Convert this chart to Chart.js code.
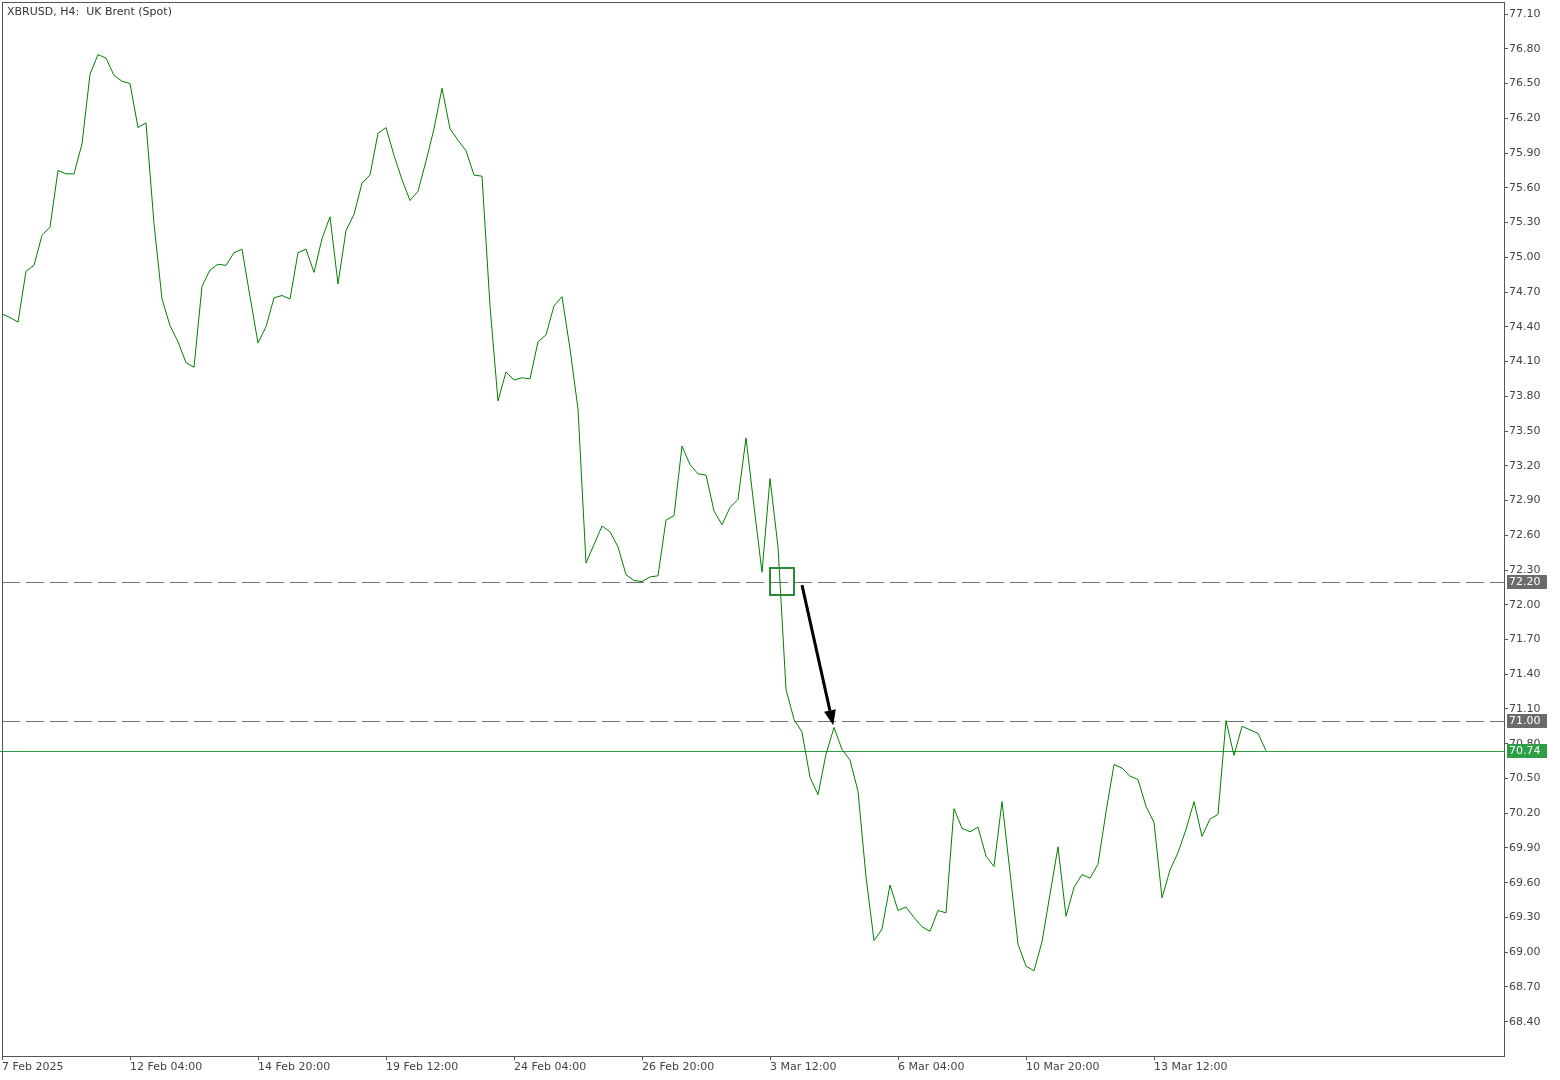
<!DOCTYPE html>
<html>
<head>
<meta charset="utf-8">
<title>XBRUSD H4</title>
<script src="https://cdn.jsdelivr.net/npm/chart.js@4.4.1/dist/chart.umd.min.js"></script>
<style>
    html, body { margin: 0; padding: 0; background: #fff; }
    #wrap { width: 1560px; height: 1080px; }
</style>
</head>
<body>
<div id="wrap"><canvas id="priceChart" width="1560" height="1080"></canvas></div>
<script>
// ==========================================
// 1. DATA (one close per bar)
// ==========================================
const closes = [
    74.51, 74.48, 74.44, 74.88, 74.93, 75.19, 75.26, 75.75, 75.72, 75.72,
    75.98, 76.58, 76.75, 76.72, 76.57, 76.52, 76.50, 76.12, 76.16, 75.29,
    74.64, 74.41, 74.27, 74.09, 74.05, 74.75, 74.89, 74.94, 74.93, 75.04,
    75.07, 74.66, 74.26, 74.40, 74.65, 74.67, 74.64, 75.04, 75.07, 74.87,
    75.16, 75.35, 74.77, 75.23, 75.37, 75.64, 75.71, 76.07, 76.12, 75.88,
    75.67, 75.49, 75.57, 75.83, 76.11, 76.46, 76.11, 76.01, 75.92, 75.71,
    75.70, 74.58, 73.76, 74.01, 73.94, 73.96, 73.95, 74.27, 74.33, 74.58,
    74.66, 74.21, 73.69, 72.36, 72.52, 72.68, 72.63, 72.50, 72.26, 72.21,
    72.20, 72.24, 72.25, 72.73, 72.77, 73.37, 73.21, 73.13, 73.12, 72.81,
    72.69, 72.84, 72.91, 73.44, 72.85, 72.28, 73.09, 72.50, 71.27, 71.01,
    70.90, 70.51, 70.36, 70.71, 70.94, 70.75, 70.66, 70.39, 69.65, 69.10,
    69.20, 69.58, 69.36, 69.39, 69.30, 69.22, 69.18, 69.36, 69.34, 70.24,
    70.07, 70.04, 70.08, 69.83, 69.74, 70.30, 69.69, 69.07, 68.88, 68.84,
    69.09, 69.50, 69.91, 69.31, 69.56, 69.67, 69.64, 69.76, 70.21, 70.62,
    70.59, 70.52, 70.49, 70.26, 70.12, 69.47, 69.71, 69.86, 70.06, 70.30,
    70.00, 70.15, 70.19, 71.00, 70.70, 70.95, 70.92, 70.89, 70.74
];

// time axis labels (bar index -> text)
const xTickIdx = [0, 16, 32, 48, 64, 80, 96, 112, 128, 144];
const xTickText = ['7 Feb 2025', '12 Feb 04:00', '14 Feb 20:00', '19 Feb 12:00', '24 Feb 04:00',
                   '26 Feb 20:00', '3 Mar 12:00', '6 Mar 04:00', '10 Mar 20:00', '13 Mar 12:00'];

// price axis labels
const yTicks = [68.40, 68.70, 69.00, 69.30, 69.60, 69.90, 70.20, 70.50, 70.80, 71.10,
                71.40, 71.70, 72.00, 72.30, 72.60, 72.90, 73.20, 73.50, 73.80, 74.10,
                74.40, 74.70, 75.00, 75.30, 75.60, 75.90, 76.20, 76.50, 76.80, 77.10];

// horizontal levels drawn by the user + last price
const levelValues = [72.20, 71.00];
const lastPrice = 70.74;

// marker box + arrow (bar index, price)
const boxAt = [97.45, 72.20];
const arrowFrom = [100.0, 72.17];
const arrowTo = [103.9, 70.96];

const titleText = 'XBRUSD, H4:  UK Brent (Spot)';

// ==========================================
// 2. PLUGINS
// ==========================================
const FONT = '11px "DejaVu Sans", sans-serif';

const frameAndLevels = {
    id: 'frameAndLevels',
    beforeDatasetsDraw(chart) {
        const { ctx, chartArea: a, scales: { y } } = chart;
        ctx.save();
        ctx.lineWidth = 1;

        // dashed levels
        ctx.strokeStyle = '#727272';
        ctx.setLineDash([18, 6]);
        levelValues.forEach(v => {
            const py = Math.round(y.getPixelForValue(v)) + 0.5;
            ctx.beginPath();
            ctx.moveTo(a.left, py);
            ctx.lineTo(a.right, py);
            ctx.stroke();
        });

        // last price line
        ctx.setLineDash([]);
        ctx.strokeStyle = '#2e9e45';
        const lp = Math.round(y.getPixelForValue(lastPrice)) + 0.5;
        ctx.beginPath();
        ctx.moveTo(0, lp);
        ctx.lineTo(a.right, lp);
        ctx.stroke();
        ctx.restore();
    },
    afterDraw(chart) {
        const { ctx, chartArea: a, scales: { x, y } } = chart;
        ctx.save();

        // frame
        ctx.strokeStyle = '#555';
        ctx.lineWidth = 1;
        ctx.strokeRect(a.left + 0.5, a.top + 0.5, a.right - a.left, a.bottom - a.top);

        // title
        ctx.font = FONT;
        ctx.fillStyle = '#333';
        ctx.textBaseline = 'middle';
        ctx.textAlign = 'left';
        ctx.fillText(titleText, 7, 12);

        // price tags on the axis
        const tag = (v, bg) => {
            const py = Math.round(y.getPixelForValue(v));
            ctx.fillStyle = bg;
            ctx.fillRect(a.right + 3, py - 7, 40, 14);
            ctx.fillStyle = '#fff';
            ctx.fillText(v.toFixed(2), a.right + 5, py + 0.5);
        };
        levelValues.forEach(v => tag(v, '#6b6b6b'));
        tag(lastPrice, '#2e9e45');

        // green marker box
        const bx = x.getPixelForValue(boxAt[0]);
        const by = y.getPixelForValue(boxAt[1]);
        ctx.strokeStyle = '#2a8a35';
        ctx.lineWidth = 2;
        ctx.strokeRect(Math.round(bx - 12), Math.round(by - 14), 24, 27);

        // black arrow
        const x0 = x.getPixelForValue(arrowFrom[0]);
        const y0 = y.getPixelForValue(arrowFrom[1]);
        const x1 = x.getPixelForValue(arrowTo[0]);
        const y1 = y.getPixelForValue(arrowTo[1]);
        const ang = Math.atan2(y1 - y0, x1 - x0);
        const headLen = 15, headHalf = 6;
        const bxh = x1 - headLen * Math.cos(ang);
        const byh = y1 - headLen * Math.sin(ang);
        ctx.strokeStyle = '#000';
        ctx.fillStyle = '#000';
        ctx.lineWidth = 3;
        ctx.beginPath();
        ctx.moveTo(x0, y0);
        ctx.lineTo(bxh, byh);
        ctx.stroke();
        ctx.beginPath();
        ctx.moveTo(x1, y1);
        ctx.lineTo(bxh + headHalf * Math.sin(ang), byh - headHalf * Math.cos(ang));
        ctx.lineTo(bxh - headHalf * Math.sin(ang), byh + headHalf * Math.cos(ang));
        ctx.closePath();
        ctx.fill();

        ctx.restore();
    }
};

// ==========================================
// 3. CHART
// ==========================================
Chart.defaults.font.family = '"DejaVu Sans", sans-serif';
Chart.defaults.font.size = 11;
Chart.defaults.color = '#444';

const ctx = document.getElementById('priceChart').getContext('2d');

new Chart(ctx, {
    type: 'line',
    data: {
        datasets: [{
            data: closes.map((v, i) => ({ x: i, y: v })),
            borderColor: '#008000',
            borderWidth: 1,
            pointRadius: 0,
            tension: 0,
            fill: false
        }]
    },
    options: {
        responsive: false,
        animation: false,
        devicePixelRatio: 1,
        layout: { padding: { left: 2, top: 2, right: 0, bottom: 0 } },
        plugins: {
            legend: { display: false },
            tooltip: { enabled: false },
            title: { display: false }
        },
        scales: {
            x: {
                type: 'linear',
                min: 0,
                max: 187.75,
                grid: { display: true, drawOnChartArea: false, drawTicks: true, tickLength: 4, color: '#555' },
                border: { display: true, color: '#555' },
                ticks: {
                    autoSkip: false,
                    maxRotation: 0,
                    align: 'start',
                    padding: 1,
                    color: '#444',
                    callback: (value) => xTickText[xTickIdx.indexOf(value)]
                },
                afterBuildTicks: (scale) => { scale.ticks = xTickIdx.map(v => ({ value: v })); },
                afterFit: (scale) => {
                    scale.height = 24;
                    scale.paddingLeft = 0;
                    scale.paddingRight = 0;
                }
            },
            y: {
                type: 'linear',
                position: 'right',
                min: 68.104,
                max: 77.204,
                grid: { display: true, drawOnChartArea: false, drawTicks: true, tickLength: 4, color: '#555' },
                border: { display: true, color: '#555' },
                ticks: {
                    padding: 1,
                    color: '#444',
                    callback: (value) => Number(value).toFixed(2)
                },
                afterBuildTicks: (scale) => { scale.ticks = yTicks.map(v => ({ value: v })); },
                afterFit: (scale) => {
                    scale.width = 56;
                    // labels never touch the ends, so no extra room above/below
                    scale.paddingTop = 0;
                    scale.paddingBottom = 0;
                }
            }
        }
    },
    plugins: [frameAndLevels]
});
</script>
</body>
</html>
